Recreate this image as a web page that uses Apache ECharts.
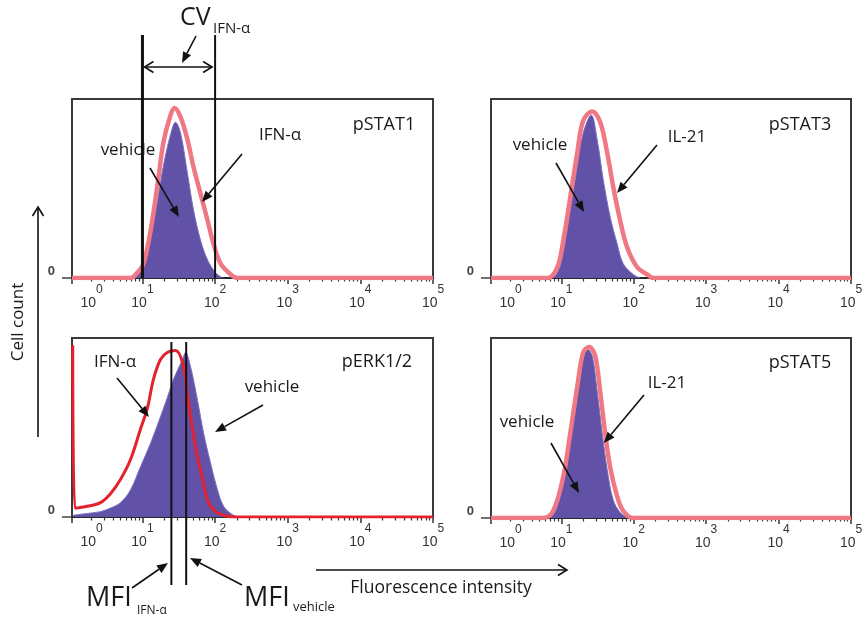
<!DOCTYPE html>
<html>
<head>
<meta charset="utf-8">
<script src="https://cdn.jsdelivr.net/npm/echarts@6/dist/echarts.min.js"></script>
<style>
  html, body { margin: 0; padding: 0; background: #fff; }
  #chart { width: 868px; height: 619px; }
</style>
</head>
<body>
<div id="chart"></div>
<script>
// x = log10(fluorescence intensity), y = % of max cell count
const X_MIN = 0.03;
const X_MAX = 5;
const decades = [0, 1, 2, 3, 4, 5];
const panelNames = ['pSTAT1', 'pSTAT3', 'pERK1/2', 'pSTAT5'];

// reference lines (log10 units)
const cvBounds = [1, 2];                 // 10^1 .. 10^2
const mfiValues = [1.398, 1.602];        // MFI IFN-a (~25), MFI vehicle (~40)

const stat1Vehicle = [[0.876, 0], [0.972, 4], [1.04, 10], [1.11, 22], [1.207, 43], [1.29, 63], [1.386, 80], [1.455, 87],
  [1.524, 81], [1.621, 58], [1.703, 38], [1.8, 21], [1.897, 10], [2.007, 3], [2.103, 0]];
const stat1Ifn = [[0.03, 0], [0.834, 0], [0.93, 3], [1.014, 8], [1.11, 26], [1.207, 52], [1.29, 76], [1.386, 91], [1.441, 95],
  [1.524, 90], [1.621, 77], [1.703, 62], [1.8, 47], [1.897, 32], [1.979, 19], [2.076, 8], [2.214, 2], [2.31, 0], [5, 0]];

const stat3Vehicle = [[0.89, 0], [0.96, 4], [1.028, 14], [1.124, 38], [1.221, 62], [1.303, 81], [1.414, 91],
  [1.497, 77], [1.579, 55], [1.676, 34], [1.772, 19], [1.855, 8], [1.993, 2], [2.09, 0]];
const stat3Il21 = [[0.03, 0], [0.807, 0], [0.945, 6], [1.028, 21], [1.124, 45], [1.221, 70], [1.303, 88], [1.428, 93],
  [1.538, 87], [1.634, 70], [1.717, 51], [1.814, 32], [1.91, 17], [2.048, 6], [2.186, 2], [2.269, 0], [5, 0]];

const erkVehicle = [[0.048, 1], [0.241, 2], [0.421, 3], [0.559, 5], [0.697, 8], [0.834, 15], [0.972, 28], [1.11, 41],
  [1.248, 56], [1.345, 67], [1.428, 77], [1.552, 88], [1.593, 92], [1.662, 84], [1.759, 65], [1.841, 47],
  [1.938, 30], [2.034, 15], [2.117, 6], [2.214, 2], [2.31, 0]];
const erkIfn = [[0.04, 96], [0.07, 5], [0.241, 6], [0.421, 8], [0.559, 13], [0.697, 21], [0.834, 32], [0.972, 49],
  [1.069, 61], [1.152, 77], [1.248, 88], [1.345, 92], [1.455, 93], [1.552, 86], [1.634, 64], [1.731, 39],
  [1.828, 21], [1.91, 8], [2.007, 3], [2.117, 1], [2.255, 0], [5, 0]];

const stat5Vehicle = [[0.848, 0], [0.92, 4], [0.986, 14], [1.083, 36], [1.166, 62], [1.262, 84], [1.359, 94], [1.428, 90],
  [1.497, 70], [1.566, 47], [1.634, 27], [1.717, 10], [1.814, 3], [1.924, 0]];
const stat5Il21 = [[0.03, 0], [0.752, 0], [0.89, 4], [1.028, 23], [1.124, 47], [1.221, 73], [1.303, 92], [1.386, 95],
  [1.469, 90], [1.538, 70], [1.607, 47], [1.676, 28], [1.772, 12], [1.855, 4], [1.993, 0], [5, 0]];

const panels = [
  { vehicle: stat1Vehicle, stim: stat1Ifn, red: '#f07884', width: 4.5 },
  { vehicle: stat3Vehicle, stim: stat3Il21, red: '#f07884', width: 4.5 },
  { vehicle: erkVehicle, stim: erkIfn, red: '#e4222e', width: 3 },
  { vehicle: stat5Vehicle, stim: stat5Il21, red: '#f07884', width: 4.5 },
];

const grids = [
  { left: 72, top: 99, width: 361, height: 179 },
  { left: 491, top: 99, width: 360, height: 179 },
  { left: 72, top: 338, width: 361, height: 179 },
  { left: 491, top: 338, width: 360, height: 180 },
];

const majorTicks = [X_MIN].concat(decades.filter(d => d >= X_MIN && d <= X_MAX));
const minorTicks = [];
for (let n = 0; n < 5; n++) {
  for (let k = 2; k <= 9; k++) {
    const v = n + Math.log10(k);
    if (v > X_MIN && v < X_MAX) minorTicks.push(v);
  }
}
const labelValues = decades.map(d => (d < X_MIN ? 0.3 : d));

const FONT = '"Open Sans", sans-serif';
const AXFONT = '"Liberation Sans", Arial, sans-serif';

const chart = echarts.init(document.getElementById('chart'));

const xAxis = [];
const yAxis = [];
const series = [];
grids.forEach((g, i) => {
  xAxis.push({
    type: 'value', gridIndex: i, position: 'bottom', min: X_MIN, max: X_MAX,
    axisLine: { show: true, lineStyle: { color: '#222', width: 1.5 } },
    axisTick: { show: true, customValues: majorTicks, length: 6, lineStyle: { color: '#333', width: 1.5 } },
    splitLine: { show: false },
    axisLabel: {
      customValues: labelValues, margin: 6, verticalAlign: 'top',
      formatter: v => '{b|10}{s|' + Math.round(v) + '}',
      rich: {
        b: { fontSize: 14, fontFamily: AXFONT, color: '#333', verticalAlign: 'bottom', lineHeight: 26 },
        s: { fontSize: 12, fontFamily: AXFONT, color: '#333', verticalAlign: 'top', lineHeight: 26 },
      },
    },
  });
  xAxis.push({
    type: 'value', gridIndex: i, position: 'bottom', min: X_MIN, max: X_MAX,
    axisLine: { show: false },
    axisTick: { show: true, customValues: minorTicks, length: 3.5, lineStyle: { color: '#333', width: 1.2 } },
    axisLabel: { show: false },
    splitLine: { show: false },
  });
  yAxis.push({
    type: 'value', gridIndex: i, min: 0, max: 100,
    axisLine: { show: false },
    axisTick: { show: true, customValues: [0], length: 10, lineStyle: { color: '#444', width: 1.5 } },
    axisLabel: {
      customValues: [0], margin: 17, verticalAlign: 'bottom',
      fontSize: 13, fontWeight: 'bold', fontFamily: AXFONT, color: '#444',
    },
    splitLine: { show: false },
  });
  const p = panels[i];
  series.push({
    name: 'vehicle', type: 'line', xAxisIndex: i * 2, yAxisIndex: i,
    data: p.vehicle, smooth: 0.35, symbol: 'none',
    lineStyle: { color: '#7a70c0', width: 1 },
    areaStyle: { color: '#6152a8', opacity: 1 },
    z: 2,
  });
  series.push({
    name: 'stimulated', type: 'line', xAxisIndex: i * 2, yAxisIndex: i,
    data: p.stim, smooth: 0.35, symbol: 'none',
    lineStyle: { color: p.red, width: p.width },
    z: 3,
  });
});

chart.setOption({
  animation: false,
  backgroundColor: '#fff',
  grid: grids.map(g => Object.assign({ show: true, borderColor: '#3a3a3a', borderWidth: 2, backgroundColor: 'transparent' }, g)),
  xAxis, yAxis, series,
});

function txt(x, y, s, size, align, extra) {
  return Object.assign({
    type: 'text', x, y, z: 100,
    style: { text: s, fontSize: size, fontFamily: FONT, fill: '#1a1a1a', textAlign: align || 'center', textVerticalAlign: 'middle' },
  }, extra || {});
}
function vline(x, y1, y2, w) {
  return { type: 'line', z: 90, shape: { x1: x, y1, x2: x, y2 }, style: { stroke: '#111', lineWidth: w } };
}
function arrow(x1, y1, x2, y2, open) {
  const a = Math.atan2(y2 - y1, x2 - x1);
  const L = open ? 9 : 11, W = open ? 5.5 : 4.5;
  const bx = x2 - L * Math.cos(a), by = y2 - L * Math.sin(a);
  const px = -Math.sin(a) * W, py = Math.cos(a) * W;
  const head = [[bx + px, by + py], [x2, y2], [bx - px, by - py]];
  const out = [{ type: 'line', z: 95, shape: { x1, y1, x2: open ? x2 : bx, y2: open ? y2 : by }, style: { stroke: '#111', lineWidth: 1.6 } }];
  if (open) out.push({ type: 'polyline', z: 95, shape: { points: head }, style: { stroke: '#111', lineWidth: 1.6, fill: null } });
  else out.push({ type: 'polygon', z: 95, shape: { points: head }, style: { fill: '#111' } });
  return out;
}

const px = (gi, v) => chart.convertToPixel({ xAxisIndex: gi * 2 }, v);

const graphic = [
  // panel titles
  txt(384, 125, panelNames[0], 18), txt(800, 125, panelNames[1], 18),
  txt(377, 362, panelNames[2], 18), txt(800, 363, panelNames[3], 18),
  // pSTAT1
  txt(280, 135, 'IFN-α', 17), txt(128, 150, 'vehicle', 17),
  ...arrow(150, 168, 179, 217), ...arrow(242, 154, 202, 202),
  // pSTAT3
  txt(687, 137, 'IL-21', 17), txt(540, 145, 'vehicle', 17),
  ...arrow(556, 163, 584, 212), ...arrow(657, 145, 617, 193),
  // pERK1/2
  txt(115, 362, 'IFN-α', 17), txt(272, 387, 'vehicle', 17),
  ...arrow(117, 378, 149, 417), ...arrow(263, 405, 215, 432),
  // pSTAT5
  txt(667, 383, 'IL-21', 17), txt(527, 422, 'vehicle', 17),
  ...arrow(551, 443, 579, 493), ...arrow(644, 395, 604, 443),
  // CV annotation
  vline(px(0, cvBounds[0]), 35, 278, 3), vline(px(0, cvBounds[1]), 35, 278, 2),
  ...arrow(180, 67, px(0, cvBounds[0]) + 2, 67, true), ...arrow(180, 67, px(0, cvBounds[1]) - 3, 67, true),
  ...arrow(196, 36, 182, 63),
  txt(180, 18, 'CV', 25, 'left'), txt(213, 29, 'IFN-α', 15, 'left'),
  // MFI annotation
  vline(px(2, mfiValues[0]), 342, 585, 2), vline(px(2, mfiValues[1]), 342, 585, 2),
  ...arrow(132, 588, 168, 563), ...arrow(242, 585, 190, 558),
  txt(86, 598, 'MFI', 27, 'left'), txt(137, 611, 'IFN-α', 12, 'left'),
  txt(244, 598, 'MFI', 27, 'left'), txt(293, 607, 'vehicle', 13, 'left'),
  // axis titles
  ...arrow(38, 437, 38, 207, true),
  txt(18, 322, 'Cell count', 17, 'center', { rotation: Math.PI / 2 }),
  ...arrow(316, 570, 567, 570, true),
  txt(441, 588, 'Fluorescence intensity', 17.5),
];

chart.setOption({ graphic });
</script>
</body>
</html>
